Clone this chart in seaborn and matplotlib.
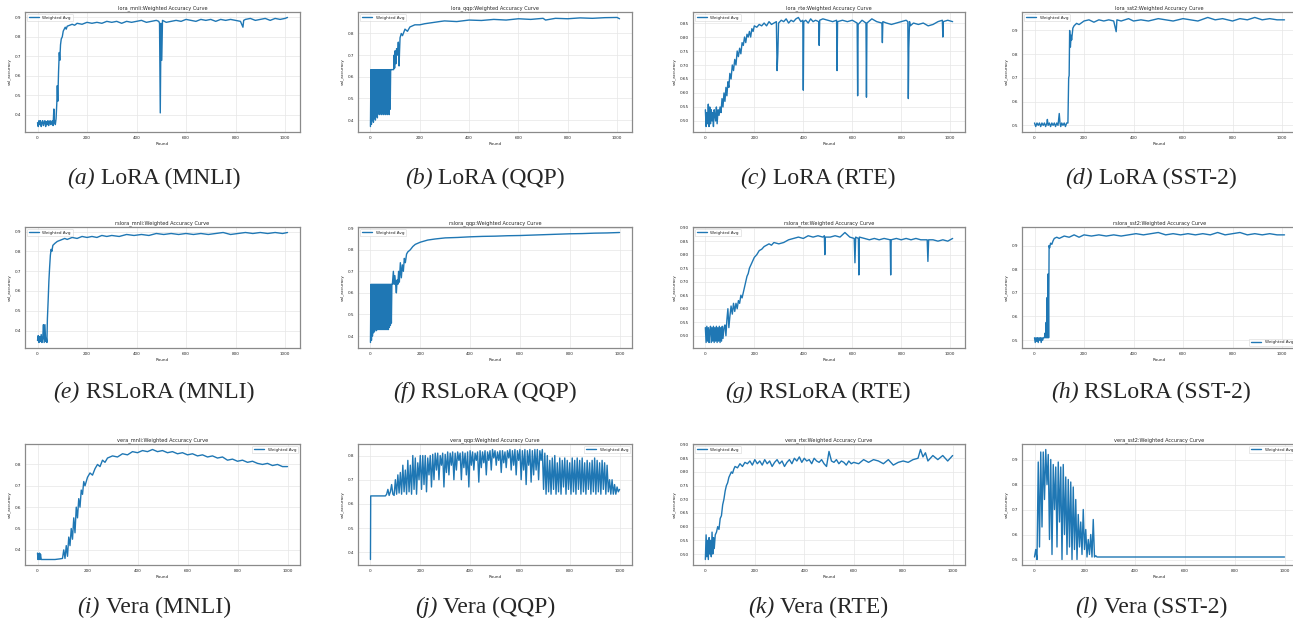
import matplotlib
matplotlib.use("Agg")
import matplotlib.pyplot as plt
import seaborn as sns

# ---- lora_mnli ----
lora_mnli_round = [
    0, 3, 6, 9, 12, 15, 18, 21, 24, 27,
    30, 33, 36, 39, 42, 45, 48, 51, 54, 57,
    60, 63, 66, 68, 70, 72, 75, 78, 80, 82,
    85, 88, 90, 93, 96, 100, 104, 108, 112, 116,
    120, 130, 140, 150, 160, 180, 200, 220, 240, 260,
    280, 300, 320, 340, 360, 380, 400, 420, 440, 460,
    480, 490, 493, 496, 499, 502, 505, 520, 540, 560,
    580, 600, 620, 640, 660, 680, 700, 720, 740, 760,
    780, 800, 820, 830, 833, 840, 860, 880, 900, 920,
    940, 960, 980, 1000, 1010]
lora_mnli_acc = [
    0.36, 0.34, 0.37, 0.35, 0.37, 0.34, 0.36, 0.37, 0.345, 0.36,
    0.37, 0.34, 0.365, 0.35, 0.37, 0.345, 0.36, 0.37, 0.35, 0.36,
    0.37, 0.345, 0.43, 0.36, 0.37, 0.35, 0.38, 0.46, 0.55, 0.47,
    0.62, 0.72, 0.68, 0.76, 0.79, 0.80, 0.83, 0.84, 0.85, 0.84,
    0.855, 0.86, 0.865, 0.86, 0.87, 0.865, 0.875, 0.87, 0.875, 0.87,
    0.88, 0.875, 0.88, 0.87, 0.88, 0.875, 0.88, 0.885, 0.875, 0.88,
    0.885, 0.88, 0.87, 0.41, 0.87, 0.68, 0.885, 0.875, 0.88, 0.885,
    0.88, 0.89, 0.885, 0.88, 0.89, 0.885, 0.89, 0.88, 0.89, 0.885,
    0.89, 0.885, 0.88, 0.85, 0.885, 0.89, 0.895, 0.885, 0.89, 0.895,
    0.885, 0.895, 0.89, 0.895, 0.9]

# ---- lora_qqp ----
lora_qqp_round = [
    0, 2, 4, 6, 8, 10, 12, 14, 16, 18,
    20, 22, 24, 26, 28, 30, 32, 34, 36, 38,
    40, 42, 44, 46, 48, 50, 52, 54, 56, 58,
    60, 62, 64, 66, 68, 70, 72, 74, 76, 78,
    80, 82, 84, 86,
    90, 94, 96, 98, 100, 103, 106, 110, 113, 116,
    118, 120, 125, 130, 140, 150, 160, 180, 200, 220,
    250, 280, 300, 350, 400, 450, 500, 550, 600, 650,
    700, 710, 750, 800, 850, 900, 950, 1000, 1010]
lora_qqp_acc = [
    0.37, 0.633, 0.38, 0.633, 0.40, 0.633, 0.39, 0.633, 0.41, 0.633,
    0.40, 0.633, 0.42, 0.633, 0.41, 0.633, 0.43, 0.633, 0.425, 0.633,
    0.43, 0.633, 0.425, 0.633, 0.43, 0.633, 0.425, 0.633, 0.43, 0.633,
    0.425, 0.633, 0.43, 0.633, 0.425, 0.633, 0.43, 0.633, 0.425, 0.633,
    0.45, 0.633, 0.633, 0.633,
    0.633, 0.633, 0.70, 0.64, 0.72, 0.66, 0.73, 0.70, 0.76, 0.65,
    0.72, 0.78, 0.80, 0.79, 0.82, 0.81, 0.83, 0.84, 0.84, 0.845,
    0.85, 0.855, 0.858, 0.855, 0.862, 0.86, 0.865, 0.862, 0.868, 0.865,
    0.87, 0.862, 0.87, 0.868, 0.872, 0.87, 0.873, 0.874, 0.868]

# ---- lora_rte ----
lora_rte_round = [
    0, 3, 6, 9, 12, 15, 18, 21, 24, 27,
    30, 33, 36, 39, 42, 45, 48, 52, 56, 60,
    64, 68, 72, 76, 80, 84, 88, 92, 96, 100,
    105, 110, 115, 120, 125, 130, 135, 140, 145, 150,
    155, 160, 165, 170, 175, 180, 185, 190, 195, 200,
    210, 220, 230, 240, 250, 260, 270, 280, 290, 293,
    296, 299, 310, 320, 330, 340, 350, 360, 370, 380,
    390, 398, 400, 402, 410, 420, 430, 440, 450, 463,
    465, 467, 480, 500, 520, 536, 538, 540, 560, 580,
    600, 620, 622, 624, 640, 656, 658, 660, 680, 700,
    721, 723, 725, 740, 760, 780, 800, 820, 827, 829,
    831, 834, 837, 850, 870, 890, 910, 930, 950, 968,
    970, 972, 990, 1010]
lora_rte_acc = [
    0.54, 0.48, 0.53, 0.49, 0.56, 0.48, 0.55, 0.49, 0.54, 0.50,
    0.53, 0.48, 0.54, 0.52, 0.50, 0.55, 0.49, 0.54, 0.52, 0.55,
    0.53, 0.58, 0.55, 0.60, 0.57, 0.62, 0.59, 0.64, 0.62, 0.67,
    0.65, 0.70, 0.68, 0.72, 0.70, 0.75, 0.73, 0.76, 0.74, 0.78,
    0.77, 0.80, 0.78, 0.81, 0.80, 0.82, 0.80, 0.83, 0.82, 0.84,
    0.835, 0.845, 0.84, 0.85, 0.84, 0.855, 0.845, 0.85, 0.855, 0.68,
    0.74, 0.85, 0.86, 0.855, 0.865, 0.85, 0.86, 0.855, 0.865, 0.87,
    0.855, 0.86, 0.61, 0.855, 0.86, 0.85, 0.865, 0.855, 0.86, 0.855,
    0.77, 0.86, 0.865, 0.86, 0.855, 0.86, 0.68, 0.855, 0.86, 0.855,
    0.86, 0.85, 0.59, 0.845, 0.86, 0.85, 0.585, 0.85, 0.865, 0.855,
    0.85, 0.78, 0.855, 0.85, 0.845, 0.85, 0.855, 0.86, 0.855, 0.58,
    0.76, 0.855, 0.84, 0.85, 0.845, 0.85, 0.84, 0.845, 0.855, 0.86,
    0.80, 0.855, 0.86, 0.855]

# ---- lora_sst2 ----
lora_sst2_round = [
    0, 5, 10, 15, 20, 25, 30, 35, 40, 45,
    50, 52, 55, 60, 65, 70, 75, 80, 85, 90,
    95, 100, 103, 106, 110, 115, 120, 125, 130, 135,
    138, 140, 142, 145, 148, 150, 155, 160, 170, 180,
    200, 220, 240, 260, 280, 300, 320, 330, 333, 350,
    380, 400, 430, 460, 500, 530, 560, 600, 630, 660,
    700, 730, 760, 800, 830, 860, 890, 920, 950, 980,
    1010]
lora_sst2_acc = [
    0.51, 0.495, 0.51, 0.50, 0.51, 0.495, 0.51, 0.50, 0.51, 0.495,
    0.51, 0.525, 0.50, 0.51, 0.495, 0.51, 0.50, 0.51, 0.495, 0.51,
    0.50, 0.55, 0.51, 0.495, 0.51, 0.50, 0.51, 0.495, 0.51, 0.51,
    0.70, 0.71, 0.90, 0.83, 0.88, 0.86, 0.91, 0.92, 0.93, 0.925,
    0.94, 0.945, 0.935, 0.945, 0.94, 0.945, 0.94, 0.895, 0.945, 0.94,
    0.95, 0.94, 0.945, 0.94, 0.95, 0.945, 0.94, 0.95, 0.945, 0.94,
    0.955, 0.945, 0.95, 0.94, 0.95, 0.945, 0.955, 0.945, 0.95, 0.945,
    0.945]

# ---- rslora_mnli ----
rslora_mnli_round = [
    0, 3, 6, 9, 12, 15, 18, 21, 24, 27,
    30, 33, 36, 38, 40, 43, 46, 49, 52, 55,
    58, 62, 66, 70, 75, 80, 90, 100, 110, 120,
    140, 160, 180, 200, 220, 240, 260, 280, 300, 330,
    360, 390, 420, 450, 480, 510, 540, 570, 600, 630,
    660, 690, 720, 750, 780, 810, 840, 870, 900, 930,
    960, 990, 1010]
rslora_mnli_acc = [
    0.35, 0.375, 0.34, 0.37, 0.345, 0.38, 0.34, 0.36, 0.43, 0.34,
    0.43, 0.345, 0.36, 0.34, 0.46, 0.55, 0.65, 0.72, 0.78, 0.81,
    0.80, 0.83, 0.835, 0.84, 0.845, 0.85, 0.855, 0.86, 0.865, 0.86,
    0.87, 0.865, 0.875, 0.87, 0.875, 0.87, 0.88, 0.875, 0.88, 0.875,
    0.885, 0.88, 0.885, 0.88, 0.89, 0.885, 0.89, 0.885, 0.89, 0.885,
    0.89, 0.885, 0.89, 0.895, 0.885, 0.89, 0.895, 0.89, 0.895, 0.89,
    0.895, 0.89, 0.895]

# ---- rslora_qqp ----
rslora_qqp_round = [
    0, 2, 4, 6, 8, 10, 12, 14, 16, 18,
    20, 22, 24, 26, 28, 30, 32, 34, 36, 38,
    40, 42, 44, 46, 48, 50, 52, 54, 56, 58,
    60, 62, 64, 66, 68, 70, 72, 74, 76, 78,
    80, 82, 84, 86, 88,
    92, 95, 98, 101, 104, 107, 110, 113, 116, 120,
    124, 128, 132, 136, 140, 145, 150, 160, 170, 180,
    200, 230, 260, 300, 350, 400, 450, 500, 550, 600,
    650, 700, 750, 800, 850, 900, 950, 1000]
rslora_qqp_acc = [
    0.37, 0.64, 0.38, 0.64, 0.40, 0.64, 0.415, 0.64, 0.42, 0.64,
    0.43, 0.64, 0.425, 0.64, 0.43, 0.64, 0.43, 0.64, 0.43, 0.64,
    0.43, 0.64, 0.43, 0.64, 0.43, 0.64, 0.43, 0.64, 0.43, 0.64,
    0.43, 0.64, 0.43, 0.64, 0.43, 0.64, 0.43, 0.64, 0.44, 0.64,
    0.45, 0.64, 0.46, 0.64, 0.64,
    0.70, 0.64, 0.68, 0.64, 0.60, 0.66, 0.64, 0.70, 0.65, 0.74,
    0.67, 0.73, 0.70, 0.76, 0.74, 0.78, 0.79, 0.80, 0.815, 0.825,
    0.835, 0.845, 0.85, 0.855, 0.857, 0.86, 0.862, 0.863, 0.865, 0.866,
    0.868, 0.87, 0.872, 0.874, 0.875, 0.877, 0.878, 0.88]

# ---- rslora_rte ----
rslora_rte_round = [
    0, 3, 6, 9, 12, 15, 18, 21, 24, 27,
    30, 33, 36, 39, 42, 45, 48, 51, 54, 57,
    60, 63, 66, 69, 72, 76, 80, 84, 88, 92,
    96, 100, 105, 110, 115, 120, 125, 130, 135, 140,
    145, 150, 155, 160, 165, 170, 175, 180, 185, 190,
    195, 200, 210, 220, 230, 240, 250, 260, 270, 280,
    300, 320, 340, 360, 380, 400, 420, 440, 460, 480,
    486, 488, 490, 510, 530, 550, 570, 590, 608, 611,
    614, 625, 627, 629, 650, 670, 690, 710, 730, 755,
    757, 759, 780, 800, 820, 840, 860, 880, 906, 909,
    912, 930, 950, 970, 990, 1010]
rslora_rte_acc = [
    0.53, 0.475, 0.535, 0.48, 0.53, 0.475, 0.52, 0.535, 0.475, 0.53,
    0.48, 0.535, 0.475, 0.53, 0.48, 0.535, 0.475, 0.53, 0.48, 0.535,
    0.475, 0.53, 0.48, 0.535, 0.49, 0.53, 0.54, 0.50, 0.56, 0.60,
    0.53, 0.57, 0.61, 0.58, 0.62, 0.59, 0.62, 0.60, 0.63, 0.62,
    0.65, 0.64, 0.66, 0.68, 0.70, 0.72, 0.73, 0.75, 0.76, 0.77,
    0.78, 0.79, 0.80, 0.815, 0.82, 0.83, 0.835, 0.84, 0.835, 0.845,
    0.84, 0.845, 0.855, 0.86, 0.865, 0.86, 0.87, 0.865, 0.87, 0.865,
    0.87, 0.80, 0.865, 0.865, 0.87, 0.865, 0.882, 0.865, 0.86, 0.77,
    0.865, 0.86, 0.725, 0.865, 0.86, 0.855, 0.86, 0.855, 0.86, 0.855,
    0.725, 0.855, 0.86, 0.855, 0.86, 0.855, 0.86, 0.855, 0.855, 0.775,
    0.855, 0.855, 0.85, 0.855, 0.85, 0.86]

# ---- rslora_sst2 ----
rslora_sst2_round = [
    0, 3, 6, 9, 12, 15, 18, 21, 24, 27,
    30, 33, 36, 40, 43, 45, 47, 49, 51, 53,
    55, 57, 59, 61, 65, 70, 75, 80, 90, 100,
    120, 140, 160, 180, 200, 230, 260, 290, 320, 350,
    380, 410, 440, 470, 500, 530, 560, 590, 620, 650,
    680, 710, 740, 770, 800, 830, 860, 890, 920, 950,
    980, 1010]
rslora_sst2_acc = [
    0.51, 0.49, 0.51, 0.495, 0.51, 0.49, 0.51, 0.50, 0.51, 0.49,
    0.51, 0.50, 0.51, 0.51, 0.53, 0.51, 0.575, 0.51, 0.68, 0.51,
    0.78, 0.51, 0.90, 0.89, 0.91, 0.905, 0.92, 0.93, 0.935, 0.93,
    0.94, 0.935, 0.945, 0.935, 0.945, 0.94, 0.945, 0.94, 0.945, 0.94,
    0.945, 0.95, 0.945, 0.95, 0.955, 0.945, 0.95, 0.945, 0.95, 0.945,
    0.95, 0.945, 0.955, 0.945, 0.95, 0.955, 0.945, 0.95, 0.945, 0.95,
    0.945, 0.945]

# ---- vera_mnli ----
vera_mnli_round = [
    0, 2, 4, 6, 8, 10, 12, 15, 30, 50,
    70, 90, 100, 105, 110, 115, 120, 125, 130, 135,
    140, 145, 150, 155, 160, 165, 170, 175, 180, 185,
    190, 200, 210, 220, 230, 240, 250, 260, 270, 280,
    300, 320, 340, 360, 380, 400, 420, 440, 460, 480,
    500, 520, 540, 560, 580, 600, 620, 640, 660, 680,
    700, 720, 740, 760, 780, 800, 820, 840, 860, 880,
    900, 920, 940, 960, 980, 1000]
vera_mnli_acc = [
    0.385, 0.355, 0.38, 0.355, 0.385, 0.355, 0.38, 0.355, 0.355, 0.355,
    0.355, 0.358, 0.36, 0.40, 0.36, 0.42, 0.37, 0.46, 0.42, 0.50,
    0.45, 0.55, 0.48, 0.60, 0.55, 0.64, 0.60, 0.68, 0.66, 0.72,
    0.70, 0.74, 0.76, 0.75, 0.78, 0.80, 0.79, 0.82, 0.81, 0.83,
    0.84, 0.835, 0.85, 0.845, 0.86, 0.855, 0.865, 0.86, 0.87, 0.86,
    0.865, 0.855, 0.86, 0.85, 0.855, 0.845, 0.85, 0.84, 0.845, 0.835,
    0.84, 0.83, 0.835, 0.82, 0.825, 0.815, 0.82, 0.81, 0.815, 0.805,
    0.80, 0.805, 0.795, 0.80, 0.79, 0.79]

# ---- vera_qqp (rounds 65..1000 every 5 after the start) ----
vera_qqp_round = [0, 1, 30, 60] + list(range(65, 1001, 5))
vera_qqp_acc = [
    0.37, 0.633, 0.633, 0.633,
    0.64, 0.66, 0.635, 0.65, 0.68, 0.64, 0.635, 0.70, 0.64, 0.72,
    0.645, 0.73, 0.64, 0.76, 0.65, 0.74, 0.64, 0.78, 0.65, 0.76,
    0.64, 0.80, 0.66, 0.79, 0.64, 0.77, 0.70, 0.80, 0.66, 0.80,
    0.68, 0.80, 0.65, 0.79, 0.72, 0.80, 0.67, 0.805, 0.70, 0.81,
    0.74, 0.81, 0.70, 0.80, 0.76, 0.81, 0.67, 0.805, 0.73, 0.815,
    0.72, 0.81, 0.76, 0.815, 0.70, 0.81, 0.74, 0.815, 0.78, 0.81,
    0.70, 0.815, 0.75, 0.81, 0.72, 0.815, 0.67, 0.82, 0.76, 0.815,
    0.74, 0.81, 0.78, 0.815, 0.69, 0.82, 0.75, 0.815, 0.77, 0.82,
    0.72, 0.815, 0.78, 0.82, 0.74, 0.825, 0.79, 0.82, 0.76, 0.815,
    0.78, 0.82, 0.73, 0.82, 0.77, 0.815, 0.75, 0.82, 0.79, 0.825,
    0.74, 0.82, 0.76, 0.825, 0.72, 0.82, 0.78, 0.825, 0.70, 0.82,
    0.74, 0.825, 0.68, 0.82, 0.76, 0.825, 0.69, 0.82, 0.72, 0.825,
    0.74, 0.825, 0.70, 0.82, 0.78, 0.825, 0.66, 0.81, 0.64, 0.80,
    0.65, 0.78, 0.64, 0.79, 0.66, 0.80, 0.64, 0.77, 0.65, 0.79,
    0.64, 0.78, 0.67, 0.79, 0.64, 0.78, 0.66, 0.77, 0.64, 0.79,
    0.65, 0.78, 0.64, 0.79, 0.66, 0.78, 0.64, 0.79, 0.65, 0.77,
    0.64, 0.78, 0.66, 0.77, 0.64, 0.78, 0.65, 0.79, 0.64, 0.78,
    0.65, 0.77, 0.64, 0.78, 0.66, 0.77, 0.64, 0.76, 0.65, 0.70,
    0.64, 0.70, 0.64, 0.68, 0.64, 0.67, 0.65, 0.66]

# ---- vera_rte ----
vera_rte_round = [
    0, 3, 6, 9, 12, 15, 18, 21, 24, 27,
    30, 33, 36, 40, 45, 50, 55, 60, 65, 70,
    75, 80, 85, 90, 95, 100, 105, 110, 115, 120,
    130, 140, 150, 160, 170, 180, 190, 200, 210, 220,
    230, 240, 250, 260, 270, 280, 290, 300, 310, 320,
    330, 340, 350, 360, 370, 380, 390, 400, 410, 420,
    430, 440, 450, 460, 470, 480, 490, 500, 510, 520,
    530, 540, 550, 560, 570, 580, 590, 600, 620, 640,
    660, 680, 700, 720, 740, 760, 780, 800, 820, 840,
    860, 870, 880, 890, 900, 920, 940, 960, 980, 1000]
vera_rte_acc = [
    0.48, 0.57, 0.49, 0.55, 0.48, 0.56, 0.50, 0.55, 0.49, 0.58,
    0.50, 0.56, 0.52, 0.57, 0.58, 0.60, 0.59, 0.63, 0.64, 0.68,
    0.70, 0.73, 0.75, 0.76, 0.78, 0.79, 0.80, 0.795, 0.81, 0.82,
    0.815, 0.83, 0.82, 0.835, 0.83, 0.84, 0.825, 0.845, 0.83, 0.84,
    0.825, 0.845, 0.83, 0.84, 0.82, 0.835, 0.845, 0.83, 0.84, 0.82,
    0.835, 0.845, 0.83, 0.85, 0.84, 0.855, 0.835, 0.85, 0.84, 0.845,
    0.83, 0.85, 0.84, 0.835, 0.845, 0.83, 0.82, 0.875, 0.84, 0.835,
    0.845, 0.83, 0.84, 0.835, 0.825, 0.84, 0.83, 0.835, 0.83, 0.845,
    0.835, 0.845, 0.84, 0.83, 0.845, 0.825, 0.835, 0.84, 0.835, 0.845,
    0.85, 0.882, 0.855, 0.87, 0.84, 0.86, 0.845, 0.86, 0.84, 0.86]

# ---- vera_sst2 ----
vera_sst2_round = [
    0, 5, 10, 15, 20, 25, 30, 35, 40, 45,
    50, 55, 60, 65, 70, 75, 80, 85, 90, 95,
    100, 105, 110, 115, 120, 125, 130, 135, 140, 145,
    150, 155, 160, 165, 170, 175, 180, 185, 190, 195,
    200, 205, 210, 215, 220, 225, 230, 235, 240,
    245, 250, 1000]
vera_sst2_acc = [
    0.51, 0.54, 0.50, 0.89, 0.55, 0.93, 0.63, 0.93, 0.74, 0.94,
    0.80, 0.92, 0.58, 0.90, 0.52, 0.88, 0.70, 0.87, 0.55, 0.89,
    0.65, 0.87, 0.50, 0.88, 0.60, 0.83, 0.52, 0.82, 0.55, 0.81,
    0.50, 0.79, 0.54, 0.74, 0.50, 0.68, 0.55, 0.65, 0.52, 0.70,
    0.54, 0.62, 0.51, 0.58, 0.52, 0.60, 0.51, 0.66, 0.51,
    0.515, 0.51, 0.51]

panels = [
    ("lora_mnli", "(a)", "LoRA (MNLI)", lora_mnli_round, lora_mnli_acc, "upper left"),
    ("lora_qqp", "(b)", "LoRA (QQP)", lora_qqp_round, lora_qqp_acc, "upper left"),
    ("lora_rte", "(c)", "LoRA (RTE)", lora_rte_round, lora_rte_acc, "upper left"),
    ("lora_sst2", "(d)", "LoRA (SST-2)", lora_sst2_round, lora_sst2_acc, "upper left"),
    ("rslora_mnli", "(e)", "RSLoRA (MNLI)", rslora_mnli_round, rslora_mnli_acc, "upper left"),
    ("rslora_qqp", "(f)", "RSLoRA (QQP)", rslora_qqp_round, rslora_qqp_acc, "upper left"),
    ("rslora_rte", "(g)", "RSLoRA (RTE)", rslora_rte_round, rslora_rte_acc, "upper left"),
    ("rslora_sst2", "(h)", "RSLoRA (SST-2)", rslora_sst2_round, rslora_sst2_acc, "lower right"),
    ("vera_mnli", "(i)", "Vera (MNLI)", vera_mnli_round, vera_mnli_acc, "upper right"),
    ("vera_qqp", "(j)", "Vera (QQP)", vera_qqp_round, vera_qqp_acc, "upper right"),
    ("vera_rte", "(k)", "Vera (RTE)", vera_rte_round, vera_rte_acc, "upper left"),
    ("vera_sst2", "(l)", "Vera (SST-2)", vera_sst2_round, vera_sst2_acc, "upper right"),
]

# pixel layout of the reference
W, H = 1293, 621
col_x = [(25, 300), (358, 632), (693, 965), (1022, 1297)]
row_y = [(12, 132), (227, 348), (444, 565)]
cap_y = [178, 392, 607]
cap_cx = [154, 485, 818, 1151]

sns.set_style("whitegrid")
plt.rcParams["font.family"] = ["DejaVu Sans"]

fig = plt.figure(figsize=(W / 100, H / 100), dpi=100)
renderer = fig.canvas.get_renderer()

for i, (name, tag, cap, rounds, acc, loc) in enumerate(panels):
    r, c = divmod(i, 4)
    x0, x1 = col_x[c]
    y0, y1 = row_y[r]
    ax = fig.add_axes([x0 / W, 1 - y1 / H, (x1 - x0) / W, (y1 - y0) / H])
    sns.lineplot(x=rounds, y=acc, ax=ax, color="#1f77b4", linewidth=1.0,
                 label="Weighted Avg", estimator=None)
    ax.set_title(f"{name}:Weighted Accuracy Curve", fontsize=3.6, pad=2)
    ax.set_xlabel("Round", fontsize=3, labelpad=1)
    ax.set_ylabel("val_accuracy", fontsize=3, labelpad=2)
    ax.set_xticks([0, 200, 400, 600, 800, 1000])
    ax.tick_params(labelsize=3, length=1.5, width=0.4, pad=1.5, color="#555555")
    ax.grid(True, color="#e6e6e6", linewidth=0.5)
    for s in ax.spines.values():
        s.set_edgecolor("#8a8a8a")
        s.set_linewidth(0.9)
    leg = ax.legend(loc=loc, fontsize=3, handlelength=2.5, frameon=True,
                    borderpad=0.4, fancybox=True)
    leg.get_frame().set_linewidth(0.4)
    leg.get_frame().set_edgecolor("#cccccc")

    # caption: italic tag + roman text, centred under the panel
    t1 = fig.text(0, 0, tag, fontsize=17, style="italic",
                  family=["Liberation Serif"], va="center")
    t2 = fig.text(0, 0, cap, fontsize=17, family=["Liberation Serif"], va="center")
    w1 = t1.get_window_extent(renderer).width
    w2 = t2.get_window_extent(renderer).width
    gap = 6
    left = cap_cx[c] - (w1 + gap + w2) / 2
    yy = 1 - cap_y[r] / H
    t1.set_position((left / W, yy))
    t2.set_position(((left + w1 + gap) / W, yy))

fig.savefig("out.png", dpi=100)
